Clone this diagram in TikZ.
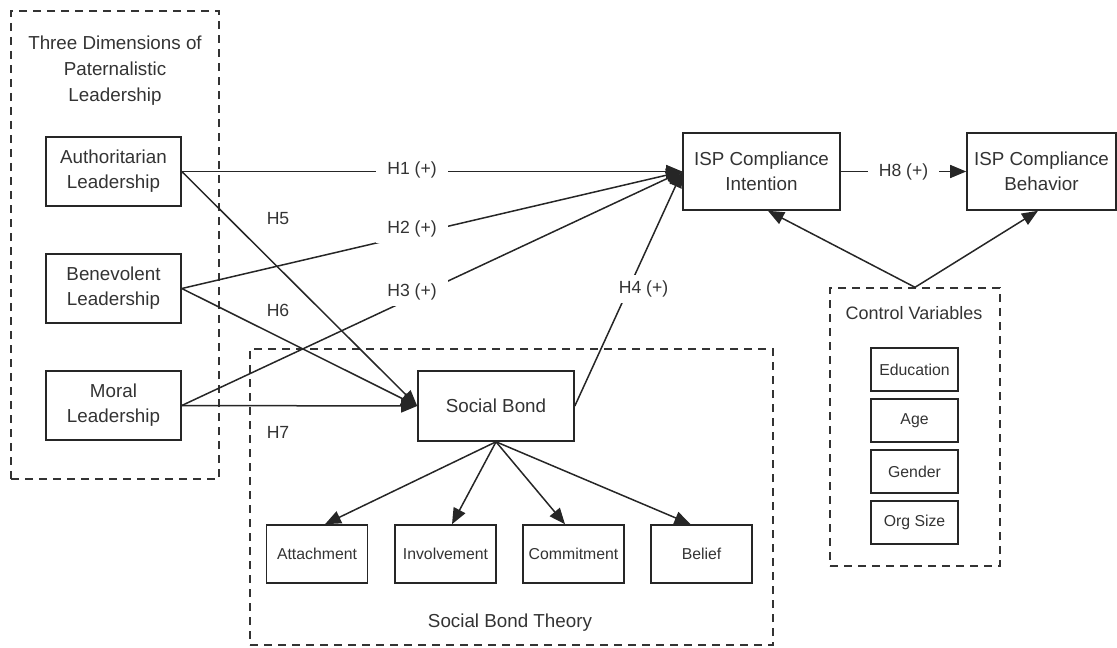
\documentclass[tikz,border=0pt]{standalone}
\usepackage{fontspec}
\setmainfont{Liberation Sans}
\usetikzlibrary{positioning, calc, arrows.meta}

\begin{document}
\begin{tikzpicture}[x=0.5pt, y=-0.5pt,
    every node/.style={text=black!80},
    box/.style={draw=black!85, line width=0.8pt, inner sep=0pt, align=center, font=\fontsize{9.4}{12.6}\selectfont},
    smallbox/.style={box, minimum width=43.5pt, minimum height=21.5pt, font=\fontsize{7.9}{10}\selectfont},
    bondbox/.style={box, minimum width=50.5pt, minimum height=29pt, font=\fontsize{7.9}{10}\selectfont},
    leadbox/.style={box, minimum width=67.5pt, minimum height=34.5pt},
    grp/.style={draw=black!80, line width=0.7pt, dash pattern=on 4pt off 3pt, inner sep=0pt},
    hyp/.style={fill=white, inner xsep=5.5pt, inner ysep=3pt, font=\fontsize{8.8}{10}\selectfont},
    link/.style={draw=black!85, line width=0.75pt, -{Triangle[length=8pt,width=6.5pt]}}]
      \useasboundingbox (0,0) rectangle (1117,647);
      \node[grp, minimum width=104pt, minimum height=234pt] (leadgrp) at (115,245) {};
      \node[grp, minimum width=261.5pt, minimum height=148pt] (bondgrp) at (511.5,497) {};
      \node[grp, minimum width=85pt, minimum height=139pt] (ctrlgrp) at (915,427) {};
      \node[align=center, font=\fontsize{9.4}{13}\selectfont] (leadtitle) at (115,71) {Three Dimensions of\\Paternalistic\\Leadership};
      \node[font=\fontsize{9.4}{12}\selectfont] (bondtitle) at (510,623) {Social Bond Theory};
      \node[font=\fontsize{9}{12}\selectfont] (ctrltitle) at (914,313) {Control Variables};
      \node[leadbox] (auth) at (113.5,171.5) {Authoritarian\\Leadership};
      \node[leadbox] (bene) at (113.5,288.5) {Benevolent\\Leadership};
      \node[leadbox] (moral) at (113.5,405.5) {Moral\\Leadership};
      \node[box, minimum width=78.5pt, minimum height=38.5pt] (intent) at (761.5,171.5) {ISP Compliance\\Intention};
      \node[box, minimum width=74.5pt, minimum height=38.5pt] (behav) at (1041.5,171.5) {ISP Compliance\\Behavior};
      \node[box, minimum width=78pt, minimum height=35pt] (sb) at (496,406) {Social Bond};
      \node[bondbox] (attach) at (317,554) {Attachment};
      \node[bondbox] (involve) at (445.5,554) {Involvement};
      \node[bondbox] (commit) at (573.5,554) {Commitment};
      \node[bondbox] (belief) at (701.5,554) {Belief};
      \node[smallbox] (edu) at (914.5,369.5) {Education};
      \node[smallbox] (age) at (914.5,420.5) {Age};
      \node[smallbox] (gender) at (914.5,471.5) {Gender};
      \node[smallbox] (orgsize) at (914.5,522.5) {Org Size};
      \node[font=\fontsize{8.8}{10}\selectfont] (hfive) at (278,219) {H5};
      \node[font=\fontsize{8.8}{10}\selectfont] (hsix) at (278,310) {H6};
      \node[font=\fontsize{8.8}{10}\selectfont] (hseven) at (278,432) {H7};
      \draw[link] (auth.east) -- (sb.west);
      \draw[link] (bene.east) -- (sb.west);
      \draw[link] (moral.east) -- (sb.west);
      \draw[link] (auth.east) -- node[hyp, pos=0.46, yshift=1pt] {H1 (+)} (intent.west);
      \draw[link] (bene.east) -- node[hyp, pos=0.46, yshift=3pt] {H2 (+)} (intent.west);
      \draw[link] (moral.east) -- node[hyp, pos=0.46, yshift=3pt] {H3 (+)} (intent.west);
      \draw[link] (sb.east) -- node[hyp, xshift=7.5pt] {H4 (+)} (intent.west);
      \draw[link] (intent.east) -- node[hyp] {H8 (+)} (behav.west);
      \draw[link] (sb.south) -- ([xshift=4pt]attach.north);
      \draw[link] (sb.south) -- ([xshift=3.25pt]involve.north);
      \draw[link] (sb.south) -- ([xshift=-4.25pt]commit.north);
      \draw[link] (sb.south) -- ([xshift=-5.5pt]belief.north);
      \draw[link] (ctrlgrp.north) -- ([xshift=3.25pt]intent.south);
      \draw[link] (ctrlgrp.north) -- ([xshift=-1.75pt]behav.south);
\end{tikzpicture}
\end{document}
